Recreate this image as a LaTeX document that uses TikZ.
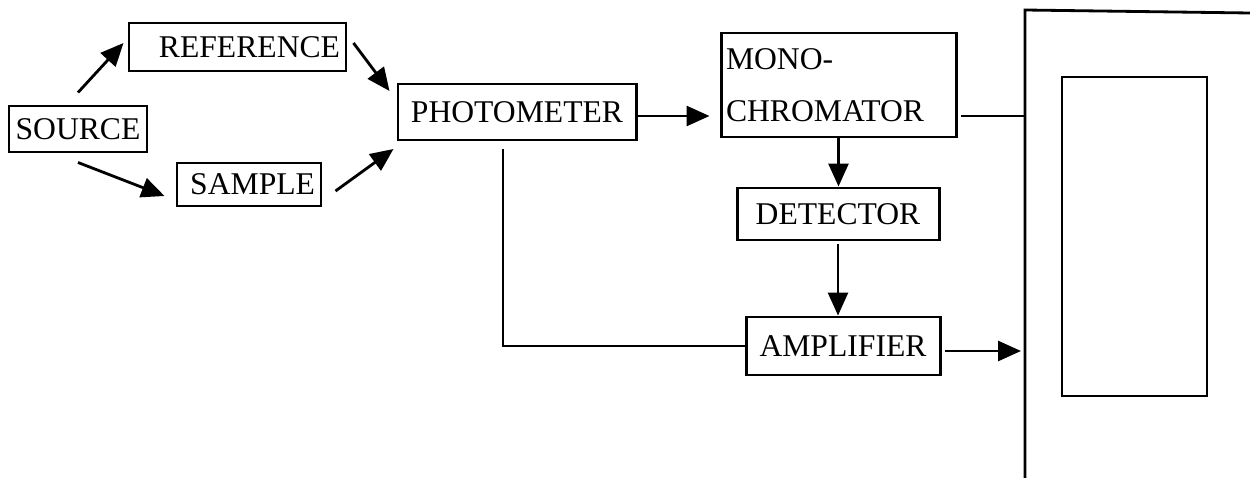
\documentclass[tikz,border=0pt]{standalone}
\usepackage{fontspec}
\setmainfont{Liberation Serif}
\usetikzlibrary{arrows.meta}
\tikzset{
  box/.style={draw,line width=1.7pt,inner sep=0pt,minimum height=#1,
    font=\fontsize{18}{22}\selectfont},
  box/.default=1cm,
  arr/.style={line width=1.6pt,-{Triangle[length=0.46cm,width=0.4cm]}},
  ln/.style={line width=1.6pt}
}
\begin{document}
\begin{tikzpicture}
\useasboundingbox (0,0) rectangle (25,-9.56);
%
\node[box=0.92cm,minimum width=2.76cm](src) at (1.56,-2.58){SOURCE};
\node[box=0.96cm,text width=4.1cm,inner xsep=0.12cm,align=right](ref) at (4.75,-0.94){REFERENCE};
\node[box=0.86cm,text width=2.64cm,inner xsep=0.12cm,align=right](sam) at (4.98,-3.69){SAMPLE};
\node[box=1.12cm,minimum width=4.76cm](pho) at (10.34,-2.24){PHOTOMETER};
\node[box=2.08cm,text width=4.5cm,inner xsep=0.1cm,align=left,
  font=\fontsize{18}{29.6}\selectfont](mono) at (16.77,-1.70){\raisebox{-0.1cm}{MONO-}\\\raisebox{-0.1cm}{CHROMATOR}};
\node[box=1.04cm,minimum width=4.04cm](det) at (16.76,-4.28){DETECTOR};
\node[box=1.16cm,minimum width=3.88cm](amp) at (16.86,-6.92){AMPLIFIER};
%
\coordinate (frtop) at (20.5,-0.2);
\coordinate (frbot) at (20.5,-9.56);
\draw[ln] (frbot) -- (frtop) -- (25,-0.26);
\draw[ln] (21.24,-1.54) rectangle (24.14,-7.92);
%
\draw[arr] ([yshift=0.24cm]src.north) -- ([xshift=-0.08cm,yshift=0.08cm]ref.west);
\draw[arr] ([yshift=-0.18cm]src.south) -- ([xshift=-0.22cm,yshift=-0.23cm]sam.west);
\draw[arr] ([xshift=0.12cm,yshift=0.08cm]ref.east) -- ([xshift=-0.14cm,yshift=0.42cm]pho.west);
\draw[arr] ([xshift=0.26cm,yshift=-0.13cm]sam.east) -- ([xshift=-0.06cm,yshift=-0.74cm]pho.west);
%
\draw[arr,shorten >=0.2cm] ([yshift=-0.08cm]pho.east) -- ([yshift=-0.08cm]pho.east -| mono.west);
\draw[ln] ([xshift=0.06cm,yshift=-0.62cm]mono.east) -- ([yshift=-0.62cm]mono.east -| frtop);
\draw[arr] (mono.south) -- (mono.south |- det.north);
\draw[arr,shorten <=0.06cm] (det.south) -- (det.south |- amp.north);
\draw[arr,shorten >=0.08cm] ([xshift=0.06cm,yshift=-0.1cm]amp.east) -- ([yshift=-0.1cm]amp.east -| frtop);
\draw[ln] ([xshift=-0.28cm,yshift=-0.16cm]pho.south) |- (amp.west);
\end{tikzpicture}
\end{document}
